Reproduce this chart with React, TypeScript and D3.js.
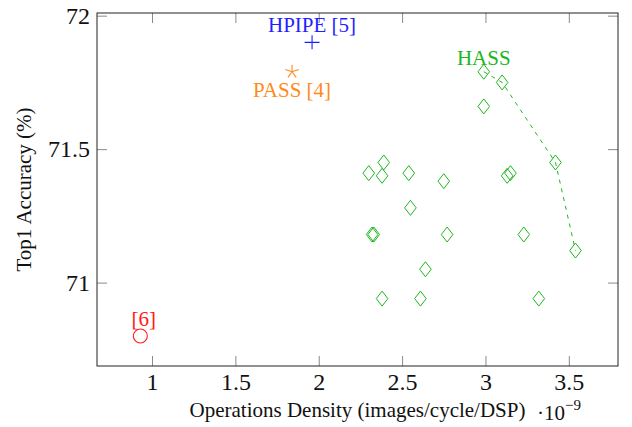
import React, {useRef, useEffect} from 'react'
import * as d3 from 'd3'

// HASS design points (density in 1e-9 images/cycle/DSP, top1 accuracy %)
const hassDensity = [2.99, 3.1, 2.99, 2.39, 2.3, 2.38, 2.54, 2.75, 3.13, 3.15, 3.42, 2.55, 2.32, 2.33, 2.77, 3.23, 3.54, 2.64, 2.38, 2.61, 3.32]
const hassAccuracy = [71.79, 71.75, 71.66, 71.45, 71.41, 71.4, 71.41, 71.38, 71.4, 71.41, 71.45, 71.28, 71.18, 71.18, 71.18, 71.18, 71.12, 71.05, 70.94, 70.94, 70.94]

// pareto front of HASS
const frontDensity = [2.99, 3.1, 3.42, 3.54]
const frontAccuracy = [71.79, 71.75, 71.45, 71.12]

// prior work
const otherNames = ['HPIPE [5]', 'PASS [4]', '[6]']
const otherDensity = [1.96, 1.84, 0.93]
const otherAccuracy = [71.9, 71.79, 70.8]
const otherMarks = ['cross', 'star', 'circle']
const otherColors = ['#1f1fff', '#ff8a1a', '#ff1a1a']

const xTicks = [1, 1.5, 2, 2.5, 3, 3.5]
const yTicks = [71, 71.5, 72]

const hassColor = '#1db71d'
const font = '"Liberation Serif", "Times New Roman", serif'

function Chart() {
  const width = 632
  const height = 427
  const marginObj = {top: 13, right: 14, bottom: 61, left: 97}
  const svgRef = useRef<SVGSVGElement>(null)

  useEffect(() => {
    const svg = d3.select(svgRef.current)
    svg.selectAll('*').remove()

    const xScale = d3
      .scaleLinear()
      .domain([0.67, 3.795])
      .range([marginObj.left, width - marginObj.right])
    const yScale = d3
      .scaleLinear()
      .domain([70.6875, 72.01])
      .range([height - marginObj.bottom, marginObj.top])

    const styleAxis = (g, withText) => {
      g.attr('font-family', font).attr('font-size', 24)
      g.select('.domain').remove()
      g.selectAll('.tick line').attr('stroke', '#8a8a8a')
      if (withText) g.selectAll('.tick text').attr('fill', '#111')
      else g.selectAll('.tick text').remove()
    }

    svg
      .append('g')
      .attr('transform', `translate(0,${height - marginObj.bottom})`)
      .call(d3.axisBottom(xScale).tickValues(xTicks).tickSize(-10).tickPadding(7).tickFormat(d3.format('')))
      .call(g => styleAxis(g, true))
    svg
      .append('g')
      .attr('transform', `translate(0,${marginObj.top})`)
      .call(d3.axisTop(xScale).tickValues(xTicks).tickSize(-10))
      .call(g => styleAxis(g, false))
    svg
      .append('g')
      .attr('transform', `translate(${marginObj.left},0)`)
      .call(d3.axisLeft(yScale).tickValues(yTicks).tickSize(-10).tickPadding(7).tickFormat(d3.format('')))
      .call(g => styleAxis(g, true))
    svg
      .append('g')
      .attr('transform', `translate(${width - marginObj.right},0)`)
      .call(d3.axisRight(yScale).tickValues(yTicks).tickSize(-10))
      .call(g => styleAxis(g, false))

    svg
      .append('rect')
      .attr('x', marginObj.left)
      .attr('y', marginObj.top)
      .attr('width', width - marginObj.left - marginObj.right)
      .attr('height', height - marginObj.top - marginObj.bottom)
      .attr('fill', 'none')
      .attr('stroke', '#222')
      .attr('stroke-width', 1)

    // pareto front, dashed
    svg
      .append('path')
      .datum(d3.range(frontDensity.length))
      .attr('fill', 'none')
      .attr('stroke', hassColor)
      .attr('stroke-width', 1)
      .attr('stroke-dasharray', '4 5')
      .attr(
        'd',
        d3
          .line<number>()
          .x(i => xScale(frontDensity[i]))
          .y(i => yScale(frontAccuracy[i]))
      )

    // HASS diamonds
    svg
      .append('g')
      .selectAll('path')
      .data(d3.range(hassDensity.length))
      .join('path')
      .attr('transform', i => `translate(${xScale(hassDensity[i])},${yScale(hassAccuracy[i])})`)
      .attr('d', 'M0,-7.5L5.8,0L0,7.5L-5.8,0Z')
      .attr('fill', 'none')
      .attr('stroke', hassColor)
      .attr('stroke-width', 1)

    svg
      .append('text')
      .attr('x', xScale(hassDensity[0]))
      .attr('y', yScale(hassAccuracy[0]) - 7)
      .attr('text-anchor', 'middle')
      .attr('font-family', font)
      .attr('font-size', 21)
      .attr('fill', hassColor)
      .text('HASS')

    // marker shapes for the other works
    const star = d3.range(5).map(k => {
      const a = -Math.PI / 2 + (k * 2 * Math.PI) / 5
      return `M0,0L${(7 * Math.cos(a)).toFixed(2)},${(7 * Math.sin(a)).toFixed(2)}`
    }).join('')
    const shapes = {
      cross: 'M-7.5,0H7.5M0,-7V7',
      star: star,
      circle: 'M7,0A7,7 0 1 1 -7,0A7,7 0 1 1 7,0Z'
    }
    const labelDx = [0, 0, 3.5]
    const labelDy = [-10.5, 25, -10]

    otherNames.forEach((name, i) => {
      const cx = xScale(otherDensity[i])
      const cy = yScale(otherAccuracy[i])
      svg
        .append('path')
        .attr('transform', `translate(${cx},${cy})`)
        .attr('d', shapes[otherMarks[i]])
        .attr('fill', 'none')
        .attr('stroke', otherColors[i])
        .attr('stroke-width', 1.1)
      svg
        .append('text')
        .attr('x', cx + labelDx[i])
        .attr('y', cy + labelDy[i])
        .attr('text-anchor', 'middle')
        .attr('font-family', font)
        .attr('font-size', 21)
        .attr('fill', otherColors[i])
        .text(name)
    })

    // axis titles
    svg
      .append('text')
      .attr('x', (marginObj.left + width - marginObj.right) / 2)
      .attr('y', 417)
      .attr('text-anchor', 'middle')
      .attr('font-family', font)
      .attr('font-size', 21)
      .attr('fill', '#111')
      .text('Operations Density (images/cycle/DSP)')

    svg
      .append('text')
      .attr('transform', `translate(31,${(marginObj.top + height - marginObj.bottom) / 2}) rotate(-90)`)
      .attr('text-anchor', 'middle')
      .attr('font-family', font)
      .attr('font-size', 21)
      .attr('fill', '#111')
      .text('Top1 Accuracy (%)')

    const exp = svg
      .append('text')
      .attr('x', 537)
      .attr('y', 420)
      .attr('font-family', font)
      .attr('font-size', 21)
      .attr('fill', '#111')
    exp.append('tspan').text('·10')
    exp.append('tspan').attr('font-size', 15).attr('dy', -10).text('−9')
  }, [])

  return (
    <svg
      ref={svgRef}
      width={width}
      height={height}
      style={{position: 'absolute', left: 0, top: 0, background: '#fff'}}
    />
  )
}

export default function App() {
  return <Chart />
}
